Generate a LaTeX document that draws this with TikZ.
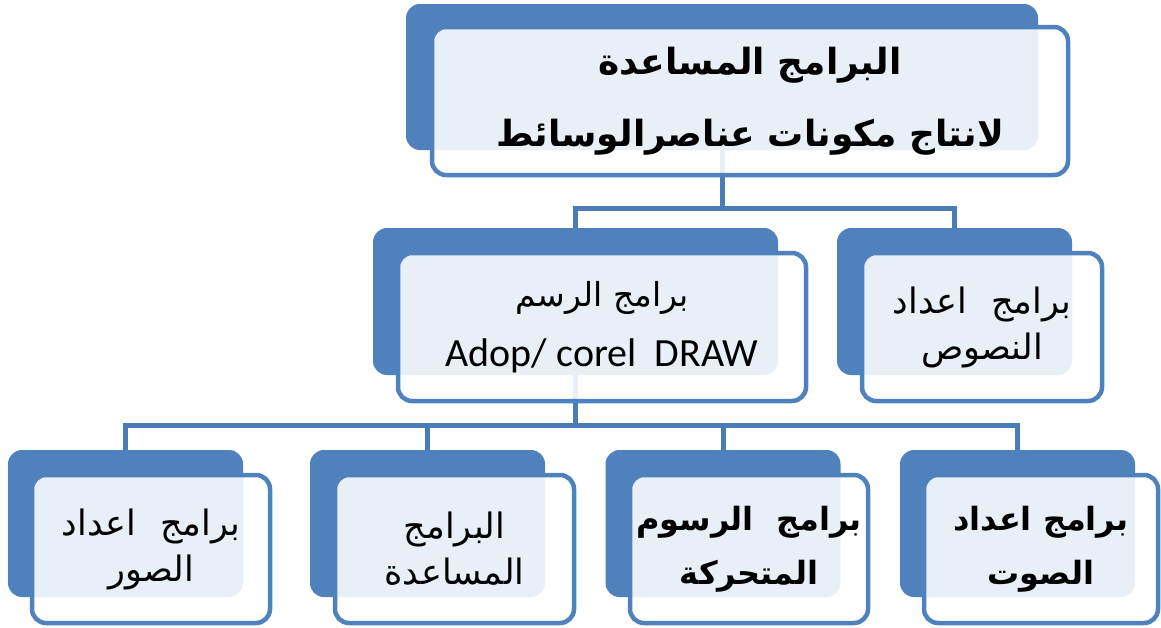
\documentclass[tikz,border=0pt]{standalone}
\usepackage{fontspec}
\setmainfont{Carlito}
\newfontfamily\arabicfont[Script=Arabic]{DejaVu Sans}
\TeXXeTstate=1
\newcommand{\artx}[1]{{\arabicfont\beginR #1\endR}}
\newcommand{\artxb}[1]{{\arabicfont\bfseries\beginR #1\endR}}
\definecolor{bblue}{HTML}{4F81BD}
\definecolor{lblue}{HTML}{4A7CB8}
\begin{document}
\begin{tikzpicture}[x=1pt,y=-1pt,
  backbox/.style={fill=bblue, draw=none, rounded corners=14pt, inner sep=0pt},
  frontbox/.style={fill=white, fill opacity=0.88, text opacity=1, draw=bblue, line width=4.5pt, rounded corners=14pt, inner sep=0pt, align=center},
  link/.style={draw=lblue, line width=5pt, line join=miter},
  regtxt/.style={font=\fontsize{35}{46}\selectfont},
  boldtxt/.style={font=\fontsize{32}{54}\selectfont},
  toptxt/.style={font=\fontsize{36}{72}\selectfont}]
\useasboundingbox (0,0) rectangle (1161,627);

% back boxes
\node[backbox, minimum width=632pt, minimum height=146pt] (topb) at (722,77) {};
\node[backbox, minimum width=405pt, minimum height=147pt] (m1b) at (575.5,301.5) {};
\node[backbox, minimum width=235pt, minimum height=147pt] (m2b) at (954.5,301.5) {};
\node[backbox, minimum width=235pt, minimum height=147pt] (b1b) at (125.5,523.5) {};
\node[backbox, minimum width=235pt, minimum height=147pt] (b2b) at (427.5,523.5) {};
\node[backbox, minimum width=235pt, minimum height=147pt] (b3b) at (723,523.5) {};
\node[backbox, minimum width=235pt, minimum height=147pt] (b4b) at (1017.5,523.5) {};

% connectors
\coordinate (j1) at (722,208);
\coordinate (j2) at (575.5,425);
\draw[link] (topb.south) -- (j1);
\draw[link] (m1b.north) |- (j1) -| (m2b.north);
\draw[link] (m1b.south) -- (j2);
\draw[link] (b1b.north) |- (j2) -| (b4b.north);
\draw[link] (b2b.north) -- (b2b.north |- j2);
\draw[link] (b3b.north) -- (b3b.north |- j2);

% front boxes
\node[frontbox, toptxt, minimum width=636pt, minimum height=148pt] (topf) at (750,101)
  {\artxb{البرامج المساعدة}\\\artxb{لانتاج مكونات عناصرالوسائط}};
\node[frontbox, regtxt, minimum width=408pt, minimum height=148pt] (m1f) at (602,327)
  {{\fontsize{33}{46}\selectfont\artx{برامج الرسم}}\\[14pt]{\fontsize{40}{46}\selectfont Adop/ corel\ \ DRAW}};
\node[frontbox, regtxt, minimum width=240pt, minimum height=148pt] (m2f) at (982,327)
  {\artx{برامج\hspace{24pt}اعداد}\\\artx{النصوص}};
\node[frontbox, regtxt, minimum width=238pt, minimum height=148pt] (b1f) at (151,549)
  {\artx{برامج\hspace{24pt}اعداد}\\\artx{الصور}};
\node[frontbox, regtxt, minimum width=239pt, minimum height=148pt] (b2f) at (454.5,549)
  {\artx{البرامج}\\\artx{المساعدة}};
\node[frontbox, boldtxt, minimum width=238pt, minimum height=148pt] (b3f) at (749,549)
  {\artxb{برامج\ \ الرسوم}\\\artxb{المتحركة}};
\node[frontbox, boldtxt, minimum width=234pt, minimum height=148pt] (b4f) at (1041,549)
  {\artxb{برامج اعداد}\\\artxb{الصوت}};
\end{tikzpicture}
\end{document}
